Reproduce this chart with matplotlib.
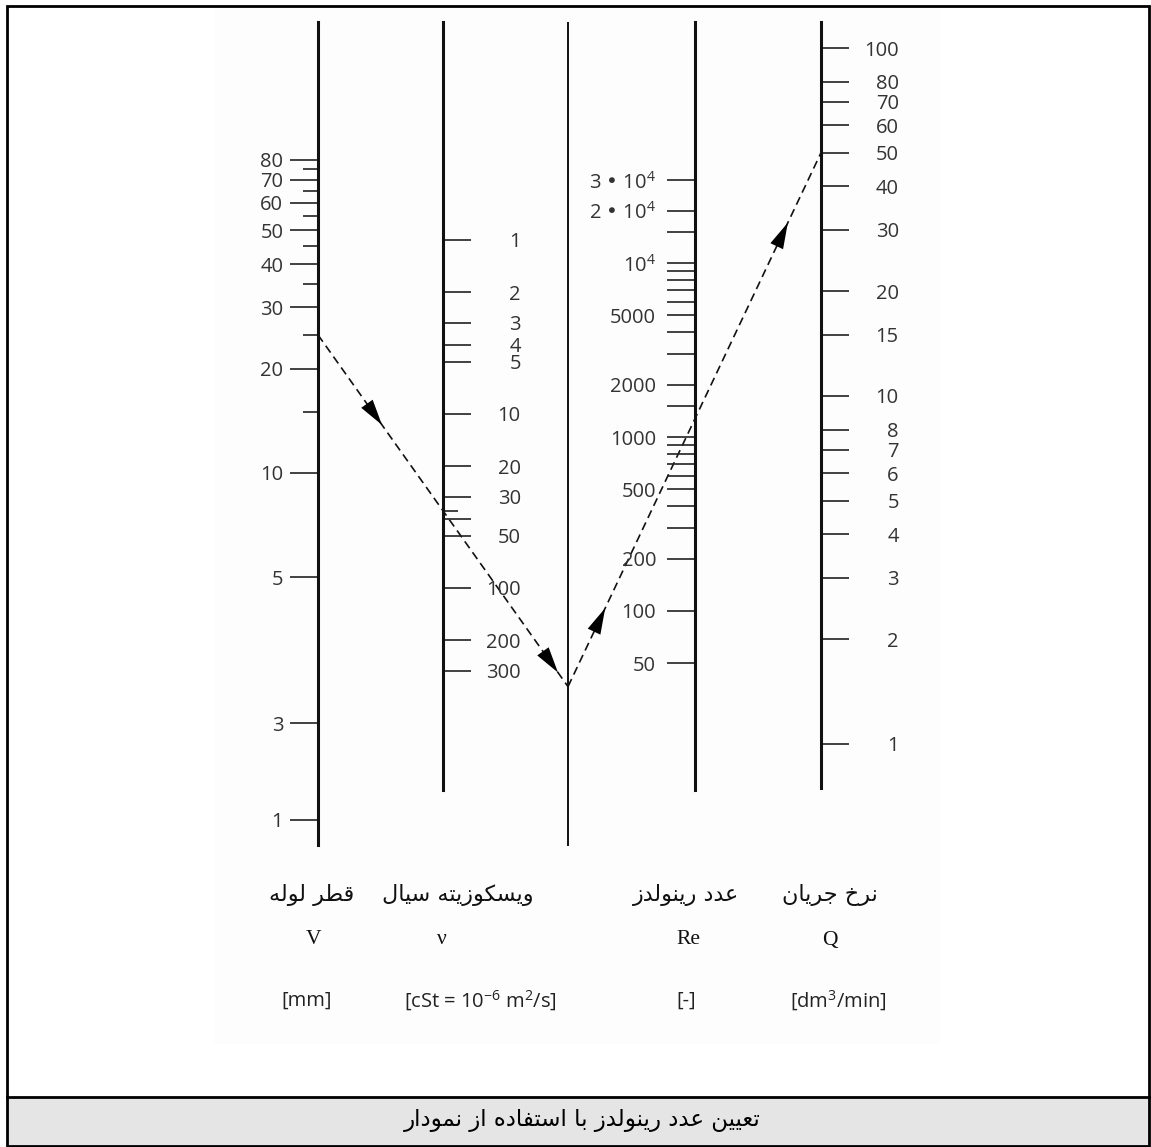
import matplotlib
matplotlib.use("Agg")
import matplotlib.pyplot as plt
from matplotlib.patches import Rectangle, Polygon
from matplotlib.ticker import FixedLocator, NullFormatter
from matplotlib.transforms import blended_transform_factory
import numpy as np

plt.rcParams['font.family'] = ['Open Sans', 'DejaVu Sans']
plt.rcParams['mathtext.default'] = 'regular'

W, H = 1151, 1147

# ---- scale values ----
# pipe diameter V [mm]  (the tick printed "3" sits where ~1.9 is on this scale)
d_major = [1, 1.9, 5, 10, 20, 30, 40, 50, 60, 70, 80]
d_labels = ['1', '3', '5', '10', '20', '30', '40', '50', '60', '70', '80']
d_minor = [15, 25, 35, 45, 55, 65, 75]

# kinematic viscosity nu [cSt]
nu_major = [1, 2, 3, 4, 5, 10, 20, 30, 40, 50, 100, 200, 300]
nu_labels = ['1', '2', '3', '4', '5', '10', '20', '30', '', '50', '100', '200', '300']

# Reynolds number Re [-]
re_major = [50, 100, 200, 300, 400, 500, 600, 700, 800, 900, 1000, 1500, 2000,
            3000, 4000, 5000, 6000, 7000, 8000, 9000, 10000, 15000, 20000, 30000]
re_labels = ['50', '100', '200', '', '', '500', '', '', '', '', '1000', '', '2000',
             '', '', '5000', '', '', '', '', '10$^{4}$', '', '2 • 10$^{4}$', '3 • 10$^{4}$']

# flow rate Q [dm3/min]
q_major = [1, 2, 3, 4, 5, 6, 7, 8, 10, 15, 20, 30, 40, 50, 60, 70, 80, 100]
q_labels = [str(v) for v in q_major]

# worked example drawn with the dashed line
ex_d = 25
ex_nu = 36
ex_q = 50

titles_fa = ['قطر لوله', 'ویسکوزیته سیال', 'عدد رینولدز', 'نرخ جریان']
symbols = ['V', 'ν', 'Re', 'Q']
units = ['[mm]', '[cSt = 10$^{-6}$ m$^{2}$/s]', '[-]', '[dm$^{3}$/min]']
caption = 'تعیین عدد رینولدز با استفاده از نمودار'

# ---- tiny arabic shaper (matplotlib has no bidi / joining) ----
FORMS = {
    'ا': ('\ufe8d', '\ufe8e', None, None),
    'ب': ('\ufe8f', '\ufe90', '\ufe91', '\ufe92'),
    'ت': ('\ufe95', '\ufe96', '\ufe97', '\ufe98'),
    'ج': ('\ufe9d', '\ufe9e', '\ufe9f', '\ufea0'),
    'خ': ('\ufea5', '\ufea6', '\ufea7', '\ufea8'),
    'د': ('\ufea9', '\ufeaa', None, None),
    'ر': ('\ufead', '\ufeae', None, None),
    'ز': ('\ufeaf', '\ufeb0', None, None),
    'س': ('\ufeb1', '\ufeb2', '\ufeb3', '\ufeb4'),
    'ط': ('\ufec1', '\ufec2', '\ufec3', '\ufec4'),
    'ع': ('\ufec9', '\ufeca', '\ufecb', '\ufecc'),
    'ف': ('\ufed1', '\ufed2', '\ufed3', '\ufed4'),
    'ق': ('\ufed5', '\ufed6', '\ufed7', '\ufed8'),
    'ل': ('\ufedd', '\ufede', '\ufedf', '\ufee0'),
    'م': ('\ufee1', '\ufee2', '\ufee3', '\ufee4'),
    'ن': ('\ufee5', '\ufee6', '\ufee7', '\ufee8'),
    'ه': ('\ufee9', '\ufeea', '\ufeeb', '\ufeec'),
    'و': ('\ufeed', '\ufeee', None, None),
    'ی': ('\ufbfc', '\ufbfd', '\ufbfe', '\ufbff'),
    'ک': ('\ufb8e', '\ufb8f', '\ufb90', '\ufb91'),
}


def shape(s):
    out = []
    for i, ch in enumerate(s):
        if ch not in FORMS:
            out.append(ch)
            continue
        prev = s[i - 1] if i > 0 else ''
        nxt = s[i + 1] if i + 1 < len(s) else ''
        jp = prev in FORMS and FORMS[prev][2] is not None
        jn = FORMS[ch][2] is not None and nxt in FORMS
        iso, fin, ini, med = FORMS[ch]
        if jp and jn:
            out.append(med)
        elif jp:
            out.append(fin)
        elif jn:
            out.append(ini)
        else:
            out.append(iso)
    return ''.join(reversed(out))


fig = plt.figure(figsize=(W / 100, H / 100), dpi=100)
fig.patch.set_facecolor('white')

# pixel-space overlay for frame, caption, guide lines
ax0 = fig.add_axes([0, 0, 1, 1])
ax0.set_xlim(0, W)
ax0.set_ylim(H, 0)
ax0.axis('off')

ax0.add_patch(Rectangle((214, 8), 727, 1036, color='#fdfdfd', lw=0, zorder=0))
ax0.add_patch(Rectangle((7, 1097), 1142, 49, color='#e5e5e5', lw=0, zorder=0))
ax0.add_patch(Rectangle((7, 6), 1142, 1140, fill=False, ec='black', lw=2, zorder=5))
ax0.plot([7, 1149], [1097, 1097], color='black', lw=2, zorder=5)


def scale_axis(x_px, top_px, bot_px, lims, side, major, labels, minor, pad):
    w = 2 / W
    left = x_px / W if side == 'left' else x_px / W - w
    ax = fig.add_axes([left, 1 - bot_px / H, w, (bot_px - top_px) / H])
    ax.set_yscale('log')
    ax.set_ylim(lims)
    ax.patch.set_visible(False)
    ax.set_xticks([])
    for s in ax.spines.values():
        s.set_visible(False)
    ax.spines[side].set_visible(True)
    ax.spines[side].set_linewidth(2.2)
    ax.spines[side].set_color('#111111')
    ax.set_yticks(major, labels)
    ax.yaxis.set_minor_locator(FixedLocator(minor))
    ax.yaxis.set_minor_formatter(NullFormatter())
    on_left = side == 'left'
    ax.tick_params(axis='y', which='both', direction='out', left=on_left, right=not on_left,
                   labelleft=on_left, labelright=not on_left, color='#222222')
    ax.tick_params(axis='y', which='major', length=20, width=1.2, pad=pad,
                   labelsize=14.5, labelcolor='#333333')
    ax.tick_params(axis='y', which='minor', length=10.5, width=1.2)
    if not on_left:
        for t in ax.yaxis.get_major_ticks():
            t.label2.set_horizontalalignment('right')
    return ax


ax_d = scale_axis(318, 22, 845, (0.847, 199.4), 'left', d_major, d_labels, d_minor, 5)
ax_nu = scale_axis(443, 22, 790, (1449, 0.0559), 'right', nu_major, nu_labels, [ex_nu], 36)
ax_re = scale_axis(695, 22, 790, (9.35, 2.43e5), 'left', re_major, re_labels, [], 8)
ax_q = scale_axis(821, 22, 788, (0.747, 118.8), 'right', q_major, q_labels, [], 36)

# pivot (unscaled) line
x_mid = 568
ax0.plot([x_mid, x_mid], [22, 846], color='#111111', lw=1.4, solid_capstyle='butt')


def on_scale(ax, val, side):
    tr = blended_transform_factory(ax.transAxes, ax.transData)
    disp = tr.transform((0 if side == 'left' else 1, val))
    return ax0.transData.inverted().transform(disp)


p_d = on_scale(ax_d, ex_d, 'left')
p_nu = on_scale(ax_nu, ex_nu, 'right')
k = (x_mid - p_d[0]) / (p_nu[0] - p_d[0])
p_piv = p_d + k * (p_nu - p_d)
p_q = on_scale(ax_q, ex_q, 'right')

dash = dict(color='#111111', lw=1.2, dashes=(5, 3))
ax0.plot([p_d[0], p_piv[0]], [p_d[1], p_piv[1]], **dash)
ax0.plot([p_piv[0], p_q[0]], [p_piv[1], p_q[1]], **dash)


def arrow_head(a, b, frac, length=26, width=14):
    a, b = np.asarray(a), np.asarray(b)
    u = (b - a) / np.hypot(*(b - a))
    n = np.array([-u[1], u[0]])
    tip = a + frac * (b - a)
    base = tip - length * u
    ax0.add_patch(Polygon([tip, base + n * width / 2, base - n * width / 2],
                          closed=True, color='black', lw=0, zorder=6))


arrow_head(p_d, p_piv, 0.256)
arrow_head(p_d, p_piv, 0.96)
arrow_head(p_piv, p_q, 0.147)
arrow_head(p_piv, p_q, 0.869)

# bottom captions of each scale
title_x = [312, 458, 686, 830]
sym_x = [314, 442, 688, 830]
unit_x = [307, 480, 686, 838]
for i in range(4):
    ax0.text(title_x[i], 895, shape(titles_fa[i]), ha='center', va='center',
             fontsize=16, family='DejaVu Sans', color='#111111')
    ax0.text(sym_x[i], 940, symbols[i], ha='center', va='center',
             fontsize=15.5, family='Liberation Serif', color='#111111')
    ax0.text(unit_x[i], 1001, units[i], ha='center', va='center',
             fontsize=14.5, color='#222222')

ax0.text(582, 1121, shape(caption), ha='center', va='center',
         fontsize=16.5, family='DejaVu Sans', color='black')

fig.savefig('out.png', dpi=100)
